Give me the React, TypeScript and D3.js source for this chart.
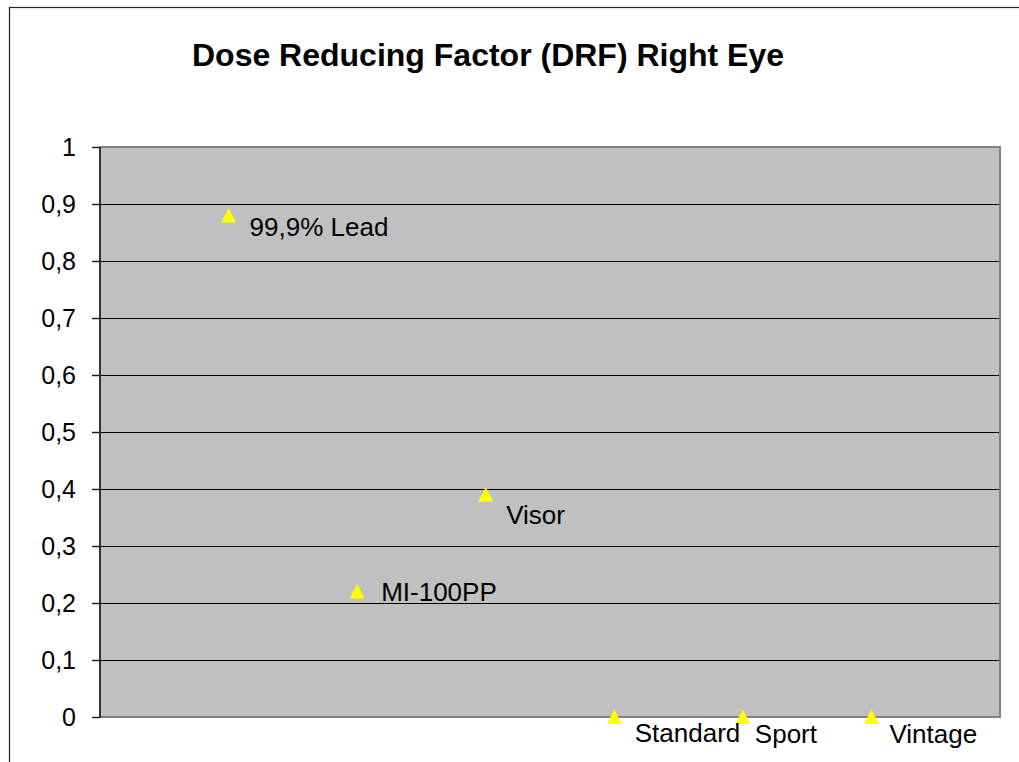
import React from "react";
import * as d3 from "d3";

const categories = ["99,9% Lead", "MI-100PP", "Visor", "Standard", "Sport", "Vintage"];
const drfValues = [0.88, 0.22, 0.39, 0, 0, 0];
const yTickValues = [0, 0.1, 0.2, 0.3, 0.4, 0.5, 0.6, 0.7, 0.8, 0.9, 1];
const title = "Dose Reducing Factor (DRF) Right Eye";
// label offsets (dx, dy of baseline) relative to the marker, as placed in the original
const labelDx = [21, 24, 20.5, 20.5, 12, 18];
const labelDy = [20.5, 9.5, 29.5, 25, 26, 26];

const W = 1019;
const H = 762;
const plot = { left: 100, right: 1000, top: 147, bottom: 717 };
const FONT = "Liberation Sans, Arial, sans-serif";

export default function App() {
  const x = d3.scaleLinear().domain([0, categories.length + 1]).range([plot.left, plot.right]);
  const y = d3.scaleLinear().domain([0, 1]).range([plot.bottom, plot.top]);
  const fmt = (v: number) => d3.format(".1~f")(v).replace(".", ",");
  const tri = "M0,-7.5L7.5,7L-7.5,7Z";

  return (
    <svg
      width={W}
      height={H}
      style={{ position: "absolute", left: 0, top: 0, background: "#fff" }}
      fontFamily={FONT}
    >
      <rect x={0} y={0} width={W} height={H} fill="#fff" />
      {/* outer chart frame */}
      <rect x={9.5} y={7.5} width={1200} height={1000} fill="none" stroke="#222" strokeWidth={1.2} />
      {/* title */}
      <text x={488} y={66} textAnchor="middle" fontSize={32} fontWeight="bold" fill="#000">
        {title}
      </text>
      {/* plot area */}
      <rect
        x={plot.left}
        y={plot.top}
        width={plot.right - plot.left}
        height={plot.bottom - plot.top}
        fill="#C0C0C0"
        stroke="#808080"
        strokeWidth={2}
      />
      {/* gridlines */}
      {yTickValues
        .filter((v) => v > 0 && v < 1)
        .map((v) => (
          <line
            key={"g" + v}
            x1={plot.left}
            x2={plot.right - 1}
            y1={Math.round(y(v)) + 0.5}
            y2={Math.round(y(v)) + 0.5}
            stroke="#000"
            strokeWidth={1}
          />
        ))}
      {/* y axis */}
      <line x1={plot.left} x2={plot.left} y1={plot.top} y2={plot.bottom + 1} stroke="#333" strokeWidth={2} />
      {yTickValues.map((v) => (
        <g key={"t" + v}>
          <line
            x1={92}
            x2={plot.left}
            y1={Math.round(y(v)) + 0.5}
            y2={Math.round(y(v)) + 0.5}
            stroke="#222"
            strokeWidth={1.5}
          />
          <text x={76} y={y(v)} dy="0.35em" textAnchor="end" fontSize={25} fill="#000">
            {fmt(v)}
          </text>
        </g>
      ))}
      {/* markers */}
      {drfValues.map((v, i) => (
        <path key={"m" + i} d={tri} transform={`translate(${x(i + 1)},${y(v)})`} fill="#FFFF00" />
      ))}
      {/* data labels */}
      {drfValues.map((v, i) => (
        <text
          key={"l" + i}
          x={x(i + 1) + labelDx[i]}
          y={y(v) + labelDy[i]}
          fontSize={26}
          fill="#000"
        >
          {categories[i]}
        </text>
      ))}
    </svg>
  );
}
